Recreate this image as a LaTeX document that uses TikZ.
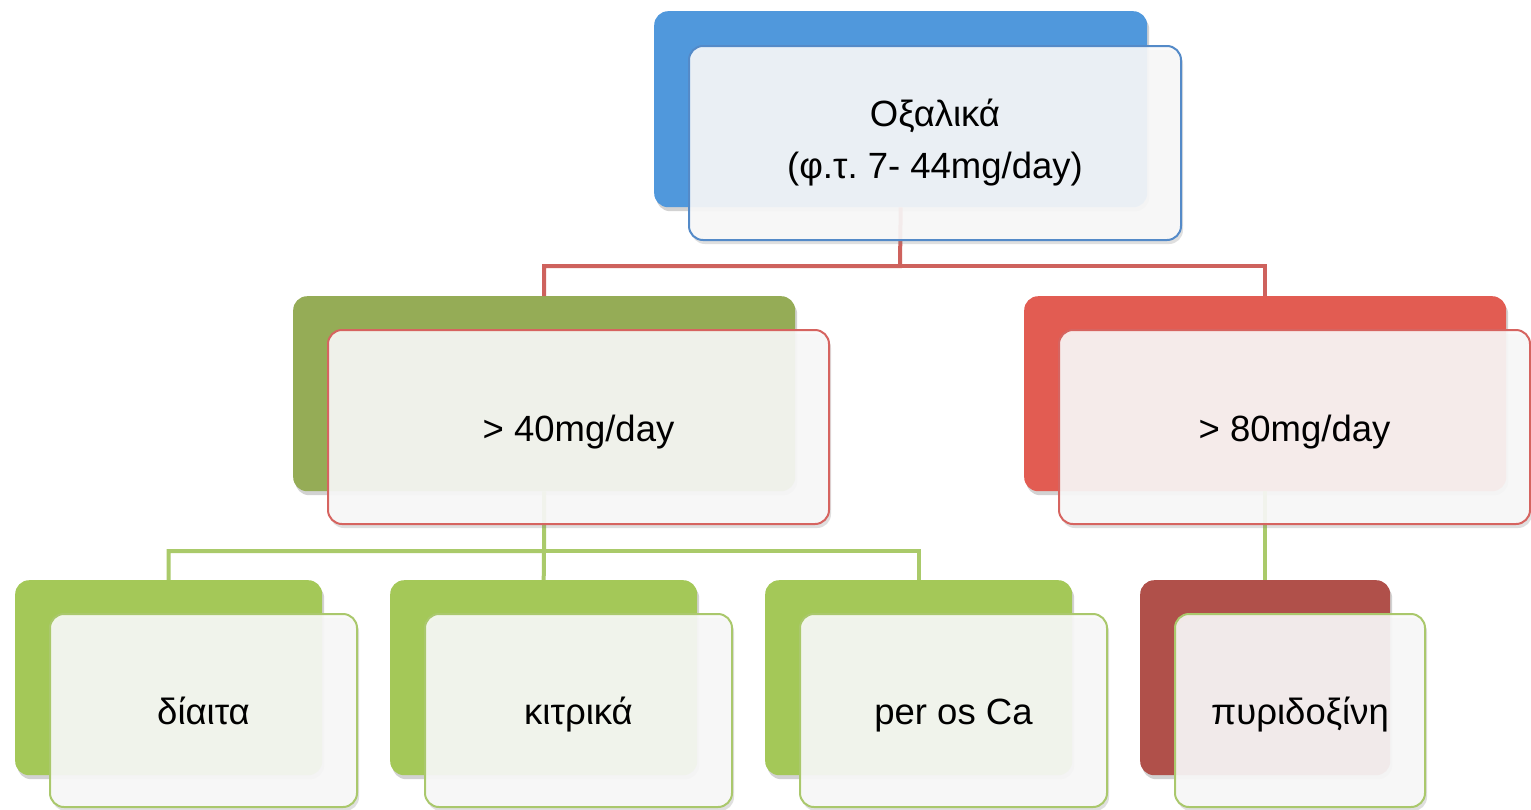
\documentclass[tikz,border=0pt]{standalone}
\usepackage{fontspec}
\setmainfont{Liberation Sans}
\usetikzlibrary{shadows}
\frenchspacing
\definecolor{blueback}{RGB}{80,152,220}
\definecolor{blueedge}{RGB}{84,138,200}
\definecolor{oliveback}{RGB}{149,172,86}
\definecolor{redback}{RGB}{226,92,82}
\definecolor{limeback}{RGB}{164,200,88}
\definecolor{darkredback}{RGB}{176,80,74}
\definecolor{rededge}{RGB}{214,100,96}
\definecolor{greenedge}{RGB}{170,200,108}
\definecolor{redconn}{RGB}{206,98,93}
\definecolor{greenconn}{RGB}{170,202,106}
\definecolor{frontfill}{RGB}{250,250,250}
\tikzset{
  backbox/.style={anchor=north west, rounded corners=14pt, inner sep=0pt, draw=none,
    drop shadow={shadow xshift=2pt, shadow yshift=-4pt, opacity=0.35}},
  frontbox/.style={anchor=north west, rounded corners=14pt, inner sep=0pt, line width=2pt,
    fill=frontfill, fill opacity=0.9, text opacity=1, align=center,
    font=\fontsize{36.5}{52}\selectfont\frenchspacing,
    drop shadow={shadow xshift=2pt, shadow yshift=-4pt, opacity=0.25}},
  oneline/.style={frontbox, text height=34pt, text depth=6pt},
  redline/.style={draw=redconn, line width=4pt},
  greenline/.style={draw=greenconn, line width=4pt}
}
\begin{document}
\begin{tikzpicture}[x=1pt,y=-1pt]
\useasboundingbox (0,0) rectangle (1531,809);
\fill[white] (0,0) rectangle (1531,809);
% back boxes
\node[backbox, fill=blueback, minimum width=493pt, minimum height=196pt] (topB) at (654,11) {};
\node[backbox, fill=oliveback, minimum width=502pt, minimum height=195pt] (L2aB) at (293,296) {};
\node[backbox, fill=redback, minimum width=482pt, minimum height=195pt] (L2bB) at (1024,296) {};
\node[backbox, fill=limeback, minimum width=307pt, minimum height=195pt] (L3aB) at (15,580) {};
\node[backbox, fill=limeback, minimum width=307pt, minimum height=195pt] (L3bB) at (390,580) {};
\node[backbox, fill=limeback, minimum width=307pt, minimum height=195pt] (L3cB) at (765,580) {};
\node[backbox, fill=darkredback, minimum width=250pt, minimum height=195pt] (L3dB) at (1140,580) {};
% connectors
\coordinate (j1) at (900,266);
\coordinate (j2) at (544,551);
\draw[redline] (topB.south) -- (j1) -| (L2aB.north);
\draw[redline] (j1) -| (L2bB.north);
\draw[greenline] (L2aB.south) -- (j2) -| (L3aB.north);
\draw[greenline] (j2) -| (L3cB.north);
\draw[greenline] (j2) -- (L3bB.north);
\draw[greenline] (L2bB.south) -- (L3dB.north);
% front boxes
\node[frontbox, draw=blueedge, minimum width=492pt, minimum height=194pt] (topF) at (688,45) {Οξαλικά\\(φ.τ. 7- 44mg/day)};
\node[oneline, draw=rededge, minimum width=501pt, minimum height=194pt] (L2aF) at (327,329) {> 40mg/day};
\node[oneline, draw=rededge, minimum width=471pt, minimum height=194pt] (L2bF) at (1058,329) {> 80mg/day};
\node[oneline, draw=greenedge, minimum width=307pt, minimum height=193pt] (L3aF) at (49,613) {δίαιτα};
\node[oneline, draw=greenedge, minimum width=307pt, minimum height=193pt] (L3bF) at (424,613) {κιτρικά};
\node[oneline, draw=greenedge, minimum width=307pt, minimum height=193pt] (L3cF) at (799,613) {per os Ca};
\node[oneline, draw=greenedge, minimum width=250pt, minimum height=193pt] (L3dF) at (1174,613) {πυριδοξίνη};
\end{tikzpicture}
\end{document}
